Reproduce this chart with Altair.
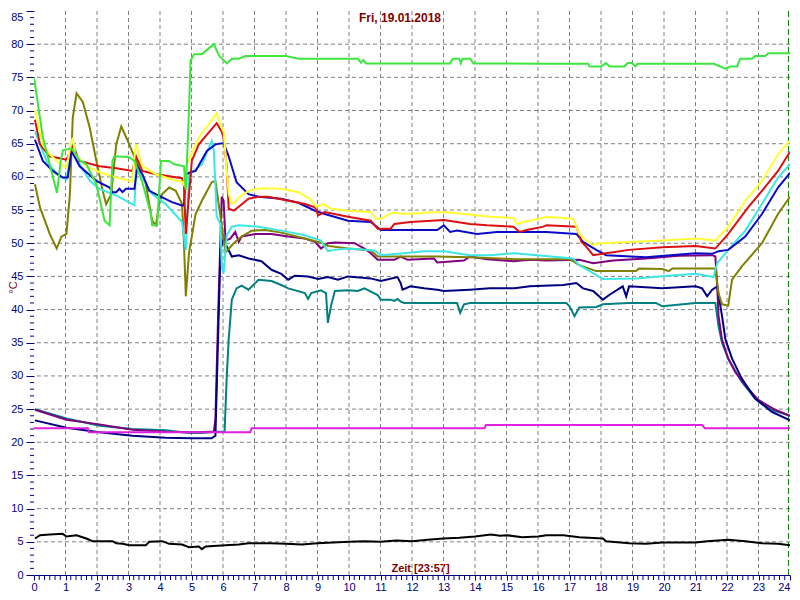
import altair as alt
import pandas as pd

# ---------------- data (hours, °C) ----------------
green_h = [0.00, 0.28, 0.60, 0.73, 0.85, 0.92, 1.19, 1.45, 1.66, 1.98, 2.24, 2.40, 2.49, 2.55, 3.00, 3.19, 3.44, 3.71, 3.75, 3.91, 4.03, 4.29, 4.45, 4.76, 4.82, 4.92, 4.97, 5.08, 5.33, 5.71, 5.87, 6.12, 6.28, 6.50, 6.71, 7.00, 8.00, 8.40, 10.28, 10.38, 10.45, 10.55, 13.20, 13.30, 13.50, 13.55, 13.60, 13.85, 13.95, 16.27, 17.59, 17.64, 18.00, 18.16, 18.27, 18.74, 18.85, 18.98, 19.09, 19.16, 21.58, 21.95, 22.11, 22.32, 22.42, 22.79, 22.89, 23.21, 23.31, 24.00]
green_v = [75.0, 66.0, 60.0, 57.6, 62.5, 64.0, 64.3, 62.5, 61.9, 58.9, 53.4, 52.7, 62.4, 63.1, 63.0, 62.4, 59.2, 54.4, 52.7, 52.7, 62.4, 62.4, 61.9, 61.6, 58.0, 70.0, 77.5, 78.5, 78.5, 80.0, 78.3, 77.1, 77.8, 77.8, 78.2, 78.2, 78.2, 77.8, 77.8, 77.2, 77.6, 77.1, 77.1, 77.8, 77.8, 77.1, 77.8, 77.8, 77.1, 77.05, 77.05, 76.65, 76.65, 77.15, 76.65, 76.65, 77.15, 77.15, 76.65, 77.05, 77.05, 76.3, 76.65, 76.65, 77.8, 77.8, 78.2, 78.2, 78.64, 78.64]

yellow_h = [0.03, 0.28, 0.50, 0.76, 1.03, 1.15, 1.23, 1.30, 1.66, 2.08, 2.61, 3.12, 3.19, 3.24, 3.44, 3.87, 4.38, 4.70, 4.76, 4.85, 5.23, 5.80, 5.96, 6.02, 6.18, 6.28, 6.39, 6.50, 6.81, 7.22, 7.85, 8.39, 8.76, 8.96, 9.18, 9.43, 9.97, 10.69, 10.85, 11.01, 11.38, 11.75, 12.38, 13.01, 13.65, 14.00, 14.47, 15.22, 15.33, 15.54, 16.05, 16.27, 17.11, 17.31, 17.53, 17.75, 17.94, 18.89, 19.95, 21.00, 21.63, 22.04, 22.58, 23.11, 23.62, 24.00]
yellow_v = [70.1, 64.8, 63.4, 62.2, 61.4, 64.5, 65.9, 63.5, 61.6, 60.7, 59.9, 59.3, 63.0, 64.9, 61.6, 60.4, 59.6, 59.3, 58.8, 61.9, 65.9, 69.6, 67.4, 66.8, 57.4, 55.9, 56.2, 56.9, 57.9, 58.3, 58.2, 57.7, 56.7, 55.5, 55.9, 55.2, 54.9, 54.7, 53.7, 53.7, 54.6, 54.4, 54.6, 54.7, 54.4, 54.2, 54.0, 53.8, 52.9, 53.2, 53.7, 54.0, 53.7, 51.4, 50.4, 49.7, 50.0, 50.2, 50.4, 50.7, 50.4, 52.5, 56.4, 59.4, 63.4, 65.5]

red_h = [0.03, 0.19, 0.50, 1.03, 1.23, 1.45, 2.08, 2.61, 3.12, 3.24, 3.44, 3.87, 4.70, 4.76, 4.82, 5.01, 5.23, 5.80, 5.96, 6.02, 6.12, 6.18, 6.34, 6.50, 6.81, 7.13, 7.44, 7.76, 8.60, 8.92, 9.02, 9.23, 9.97, 10.69, 10.91, 11.32, 11.44, 11.95, 13.01, 13.84, 14.38, 15.22, 15.42, 15.64, 16.17, 16.27, 17.22, 17.38, 17.53, 17.75, 18.16, 18.89, 19.95, 21.00, 21.63, 22.04, 22.67, 23.11, 23.62, 24.00]
red_v = [68.6, 64.9, 63.1, 62.6, 64.6, 62.4, 61.6, 61.3, 60.9, 63.1, 60.9, 60.4, 59.8, 58.7, 51.4, 62.4, 64.9, 68.1, 66.8, 65.9, 61.4, 55.2, 54.9, 55.5, 56.7, 57.0, 57.0, 56.7, 55.9, 55.4, 54.2, 54.7, 54.0, 53.4, 52.2, 52.2, 52.9, 53.2, 53.5, 52.9, 52.7, 52.5, 51.7, 52.0, 52.5, 52.7, 52.5, 50.2, 49.5, 48.2, 48.5, 49.0, 49.4, 49.6, 49.2, 51.4, 55.4, 57.9, 60.9, 63.8]

cyan_h = [0.03, 0.40, 0.72, 1.03, 1.23, 1.45, 1.77, 2.08, 2.61, 3.19, 3.24, 3.44, 3.75, 4.18, 4.70, 4.82, 4.92, 5.33, 5.64, 5.71, 5.80, 5.92, 5.96, 6.02, 6.12, 6.28, 6.50, 7.13, 7.85, 8.60, 9.11, 9.33, 9.55, 9.97, 10.49, 10.81, 11.01, 11.75, 12.38, 13.01, 13.43, 13.84, 14.47, 15.26, 15.96, 17.11, 17.31, 17.75, 18.06, 19.11, 20.15, 21.00, 21.57, 21.69, 22.04, 22.58, 23.11, 23.62, 24.00]
cyan_v = [66.9, 62.4, 60.4, 59.6, 65.4, 61.9, 59.4, 58.2, 57.2, 55.7, 61.6, 59.9, 57.4, 55.9, 53.2, 49.0, 60.4, 61.9, 65.4, 63.9, 54.0, 52.9, 46.5, 45.5, 51.2, 52.5, 52.7, 52.5, 51.9, 51.2, 50.4, 48.8, 49.0, 49.2, 49.0, 48.9, 48.2, 48.5, 48.8, 48.8, 48.5, 48.2, 48.2, 48.5, 48.2, 47.7, 46.7, 45.5, 44.6, 44.7, 45.1, 45.4, 44.9, 47.0, 49.0, 51.9, 55.9, 59.9, 61.9]

blue_h = [0.03, 0.28, 0.60, 0.91, 1.07, 1.19, 1.45, 1.98, 2.40, 2.49, 2.61, 2.71, 2.81, 2.92, 3.19, 3.28, 3.44, 3.66, 4.07, 4.38, 4.70, 4.76, 4.82, 4.97, 5.13, 5.49, 5.76, 6.02, 6.18, 6.43, 6.81, 7.13, 7.85, 8.39, 8.92, 9.23, 9.97, 10.69, 11.01, 12.80, 13.01, 13.21, 13.43, 14.06, 14.70, 16.27, 17.22, 17.43, 17.85, 18.16, 19.43, 21.00, 21.53, 21.73, 22.04, 22.58, 23.11, 23.62, 24.00]
blue_v = [65.6, 62.4, 60.9, 59.9, 59.9, 63.9, 61.6, 59.4, 58.4, 57.7, 57.7, 58.2, 57.7, 58.2, 58.2, 61.6, 60.4, 57.9, 56.9, 56.2, 55.7, 55.7, 60.4, 60.7, 60.9, 63.9, 64.9, 65.1, 63.1, 59.2, 57.4, 57.0, 56.7, 56.1, 54.9, 54.4, 53.4, 53.2, 52.0, 52.0, 52.7, 51.7, 51.9, 51.4, 51.7, 51.7, 51.4, 50.2, 49.0, 48.2, 47.9, 48.5, 48.4, 48.8, 49.0, 51.0, 54.4, 58.4, 60.6]

olive_h = [0.03, 0.19, 0.50, 0.72, 0.87, 1.03, 1.14, 1.23, 1.35, 1.55, 1.77, 1.98, 2.18, 2.29, 2.45, 2.61, 2.77, 2.96, 3.24, 3.55, 3.75, 3.87, 3.97, 4.07, 4.29, 4.50, 4.70, 4.76, 4.82, 4.92, 5.13, 5.33, 5.64, 5.76, 6.08, 6.34, 6.59, 6.91, 7.34, 7.85, 8.60, 9.11, 9.33, 9.97, 10.69, 10.91, 11.75, 12.80, 13.84, 15.26, 17.00, 17.31, 17.85, 19.11, 19.21, 19.95, 20.15, 20.27, 21.63, 21.73, 21.84, 22.04, 22.16, 22.47, 23.11, 23.62, 24.00]
olive_v = [58.9, 55.4, 51.4, 49.2, 51.0, 51.4, 57.4, 68.9, 72.6, 71.3, 67.4, 62.4, 57.9, 55.9, 57.4, 64.9, 67.6, 65.6, 62.4, 58.9, 53.4, 52.7, 55.9, 57.4, 58.4, 57.9, 55.9, 50.0, 42.0, 48.5, 54.4, 56.4, 59.2, 59.4, 48.6, 50.0, 51.0, 51.9, 52.0, 51.6, 50.7, 50.1, 49.6, 49.2, 48.9, 48.0, 48.0, 48.0, 47.9, 47.6, 47.6, 46.7, 45.8, 45.8, 46.2, 46.1, 45.8, 46.2, 46.2, 42.5, 40.8, 40.6, 44.5, 46.5, 50.0, 54.4, 57.0]

purple_h = [0.03, 1.03, 2.08, 3.12, 4.18, 5.01, 5.64, 5.71, 5.76, 5.85, 5.96, 6.02, 6.08, 6.23, 6.39, 6.50, 6.59, 7.02, 7.54, 8.07, 8.60, 8.92, 9.11, 9.33, 9.55, 10.18, 10.49, 10.69, 10.91, 11.44, 11.64, 11.86, 12.70, 12.80, 13.65, 13.84, 14.38, 15.22, 15.74, 16.27, 17.31, 17.75, 18.38, 19.43, 20.47, 21.53, 21.63, 21.69, 21.73, 21.84, 22.04, 22.26, 22.58, 22.99, 23.53, 24.00]
purple_v = [24.9, 23.4, 22.7, 21.9, 21.6, 21.5, 21.6, 21.6, 23.6, 40.0, 57.0, 56.4, 50.4, 50.7, 51.7, 50.2, 51.0, 51.4, 51.4, 51.0, 50.7, 50.2, 49.2, 50.0, 50.1, 50.0, 49.2, 48.5, 47.5, 47.5, 48.0, 47.5, 47.7, 47.1, 47.4, 48.0, 47.6, 47.3, 47.5, 47.4, 47.5, 47.0, 47.4, 47.7, 48.1, 48.2, 48.0, 43.5, 39.1, 35.5, 32.6, 30.6, 28.6, 26.4, 24.9, 24.0]

navy_h = [0.03, 1.03, 2.08, 3.12, 4.18, 5.01, 5.64, 5.76, 5.92, 6.02, 6.12, 6.28, 6.50, 6.81, 7.22, 7.54, 7.85, 8.07, 8.28, 8.70, 9.02, 9.33, 9.65, 9.97, 10.69, 11.01, 11.54, 11.64, 11.70, 11.95, 12.38, 12.80, 13.01, 13.84, 14.47, 15.26, 15.74, 16.80, 17.22, 17.43, 17.75, 18.06, 18.26, 18.69, 18.80, 18.89, 19.95, 21.00, 21.21, 21.37, 21.53, 21.69, 21.84, 21.95, 22.16, 22.47, 22.89, 23.42, 24.00]
navy_v = [23.3, 22.2, 21.5, 21.0, 20.7, 20.6, 20.6, 21.0, 49.0, 50.7, 49.5, 48.0, 48.2, 47.7, 47.3, 46.0, 45.4, 44.5, 45.1, 45.0, 44.6, 44.9, 44.5, 45.0, 44.7, 44.3, 44.9, 44.0, 43.0, 43.5, 43.2, 43.0, 42.8, 43.0, 43.2, 43.2, 43.5, 43.7, 44.0, 43.2, 42.8, 41.5, 42.2, 43.5, 42.0, 43.5, 43.2, 43.5, 43.2, 42.0, 43.0, 43.5, 39.1, 35.5, 32.6, 29.6, 26.6, 24.6, 23.3]

teal_h = [0.03, 1.03, 2.08, 3.12, 4.18, 4.92, 5.33, 5.76, 6.05, 6.12, 6.18, 6.28, 6.43, 6.59, 6.81, 7.13, 7.54, 7.85, 8.07, 8.60, 8.70, 8.80, 9.11, 9.27, 9.33, 9.43, 9.55, 9.97, 10.28, 10.49, 10.91, 11.01, 11.32, 11.44, 11.54, 11.64, 11.75, 13.43, 13.53, 13.65, 13.84, 16.90, 17.00, 17.16, 17.31, 17.85, 18.06, 18.89, 19.74, 19.95, 21.00, 21.63, 21.73, 21.84, 22.04, 22.47, 22.89, 23.42, 24.00]
teal_v = [25.0, 23.6, 22.5, 22.0, 21.8, 21.4, 21.4, 21.6, 21.6, 30.0, 35.5, 41.5, 43.2, 43.6, 43.0, 44.5, 44.3, 43.7, 43.2, 42.5, 41.6, 42.5, 42.9, 42.5, 38.0, 40.6, 42.8, 42.9, 42.8, 43.2, 42.2, 41.5, 41.5, 41.3, 41.6, 41.2, 41.0, 41.0, 39.5, 40.8, 41.0, 41.0, 40.5, 39.0, 40.3, 40.4, 40.8, 41.0, 41.0, 40.5, 41.0, 41.0, 37.5, 35.0, 32.6, 29.1, 26.6, 24.9, 24.0]

magenta_h = [0.00, 1.71, 1.75, 6.86, 6.91, 14.30, 14.35, 21.21, 21.30, 24.00]
magenta_v = [22.1, 22.1, 21.5, 21.5, 22.1, 22.1, 22.6, 22.6, 22.1, 22.1]

black_h = [0.03, 0.19, 0.50, 0.91, 1.03, 1.35, 1.66, 1.86, 2.49, 2.61, 2.81, 3.03, 3.55, 3.66, 4.07, 4.29, 4.70, 4.92, 5.23, 5.33, 5.45, 6.08, 6.50, 6.81, 7.50, 8.00, 8.50, 9.00, 9.50, 10.00, 10.50, 11.00, 11.50, 12.00, 12.50, 13.00, 13.50, 14.00, 14.50, 14.80, 15.00, 15.50, 16.00, 16.27, 16.80, 17.31, 18.06, 18.16, 18.89, 19.43, 19.95, 21.00, 21.37, 22.04, 22.58, 23.11, 23.62, 24.00]
black_v = [5.5, 6.0, 6.1, 6.2, 5.8, 6.0, 5.5, 5.1, 5.1, 4.8, 4.7, 4.5, 4.5, 5.0, 5.1, 4.7, 4.6, 4.2, 4.3, 3.9, 4.3, 4.5, 4.6, 4.8, 4.8, 4.7, 4.6, 4.8, 4.9, 5.0, 5.1, 5.0, 5.2, 5.1, 5.3, 5.5, 5.6, 5.8, 6.1, 5.9, 6.0, 5.7, 5.8, 6.0, 6.0, 5.7, 5.5, 5.1, 4.8, 4.7, 4.9, 4.9, 5.1, 5.3, 5.1, 4.8, 4.7, 4.5]

# drawing order: first is drawn at the bottom
series_names = ["black", "teal", "purple", "navy", "magenta", "olive", "cyan", "blue", "red", "yellow", "green"]
series_colors = ["#000000", "#008080", "#800080", "#000080", "#e020e0", "#808000", "#3ce6e6", "#0a0ac8", "#dc1010", "#ffff33", "#3ce63c"]

x_major = list(range(0, 25))
x_grid = list(range(1, 24))
x_minor = [m / 6 for m in range(0, 145) if m % 6 != 0]
y_major = list(range(0, 86, 5))
y_grid = list(range(5, 85, 5))
y_minor = [v for v in range(0, 86) if v % 5 != 0]
now_hour = [23.95]

chart_title = "Fri, 19.01.2018"
x_title = "Zeit [23:57]"
y_title = "°C"

# ---------------- build tables ----------------
series = {
    "black": (black_h, black_v), "magenta": (magenta_h, magenta_v), "teal": (teal_h, teal_v),
    "navy": (navy_h, navy_v), "purple": (purple_h, purple_v), "olive": (olive_h, olive_v),
    "cyan": (cyan_h, cyan_v), "blue": (blue_h, blue_v), "red": (red_h, red_v),
    "yellow": (yellow_h, yellow_v), "green": (green_h, green_v),
}
rows = []
for k, name in enumerate(series_names):
    hs, vs = series[name]
    for i, (h, v) in enumerate(zip(hs, vs)):
        rows.append({"s": name, "k": k, "i": i, "h": h, "v": v})
df = pd.DataFrame(rows)

W, H = 756, 564
FONT = "Liberation Sans"
NAVY = "#000080"
DARKRED = "#800000"

xs = alt.Scale(domain=[0, 24], nice=False, zero=False)
ys = alt.Scale(domain=[0, 85], nice=False, zero=False)

x_axis = alt.Axis(values=x_major, grid=False, labelColor=NAVY, labelFont=FONT, labelFontSize=11,
                  labelPadding=1, labelFlush=False, labelOverlap=False, tickColor=NAVY, tickSize=5,
                  labelAlign={"condition": {"test": "datum.value == 24", "value": "right"}, "value": "center"},
                  domain=True, domainColor=NAVY, format="d",
                  title=x_title, titleColor=DARKRED, titleFont=FONT, titleFontSize=11,
                  titleFontWeight="bold", titleX=386, titleY=-7, titleAlign="center",
                  titleBaseline="middle")
y_axis = alt.Axis(values=y_major, grid=False, labelColor=NAVY, labelFont=FONT, labelFontSize=11,
                  labelPadding=3, labelFlush=False, labelOverlap=False, tickColor=NAVY, tickSize=8,
                  labelBaseline={"condition": {"test": "datum.value == 85", "value": "top"}, "value": "middle"},
                  domain=False, format="d",
                  title=y_title, titleColor=DARKRED, titleFont=FONT, titleFontSize=11,
                  titleFontWeight="normal", titleX=-21, titleY=276, titleAngle=270,
                  titleAlign="center", titleBaseline="middle")

hgrid = alt.Chart(pd.DataFrame({"v": y_grid})).mark_rule(
    color="#808080", strokeDash=[4, 3], strokeWidth=1).encode(
    y=alt.Y("v:Q", scale=ys, axis=y_axis))
vgrid = alt.Chart(pd.DataFrame({"h": x_grid})).mark_rule(
    color="#808080", strokeDash=[4, 3], strokeWidth=1).encode(
    x=alt.X("h:Q", scale=xs, axis=x_axis))
yminor = alt.Chart(pd.DataFrame({"v": y_minor})).mark_rule(color=NAVY, strokeWidth=1).encode(
    y=alt.Y("v:Q", scale=ys, axis=y_axis), x=alt.value(-4), x2=alt.value(0))
xminor = alt.Chart(pd.DataFrame({"h": x_minor})).mark_rule(color=NAVY, strokeWidth=1).encode(
    x=alt.X("h:Q", scale=xs, axis=x_axis), y=alt.value(H), y2=alt.value(H + 5))
nowline = alt.Chart(pd.DataFrame({"h": now_hour})).mark_rule(
    color="#008000", strokeDash=[6, 3], strokeWidth=1).encode(
    x=alt.X("h:Q", scale=xs, axis=x_axis))

lines = alt.Chart(df).mark_line(strokeWidth=2, clip=True).encode(
    x=alt.X("h:Q", scale=xs, axis=x_axis),
    y=alt.Y("v:Q", scale=ys, axis=y_axis),
    color=alt.Color("s:N", scale=alt.Scale(domain=series_names, range=series_colors), legend=None),
    order=alt.Order("i:Q"),
)

title_txt = alt.Chart(pd.DataFrame({"t": [chart_title]})).mark_text(
    font=FONT, fontSize=12, fontWeight="bold", color=DARKRED, align="center", baseline="middle"
).encode(text="t:N", x=alt.value(366), y=alt.value(7))

chart = alt.layer(hgrid, vgrid, nowline, yminor, xminor, lines, title_txt).properties(
    width=W, height=H,
    autosize=alt.AutoSizeParams(type="none"),
    padding={"left": 26, "top": 3, "right": 2, "bottom": 17},
    background="white",
).configure_view(stroke=None)

chart.save("out.html", embed_options={"renderer": "svg", "actions": False})
